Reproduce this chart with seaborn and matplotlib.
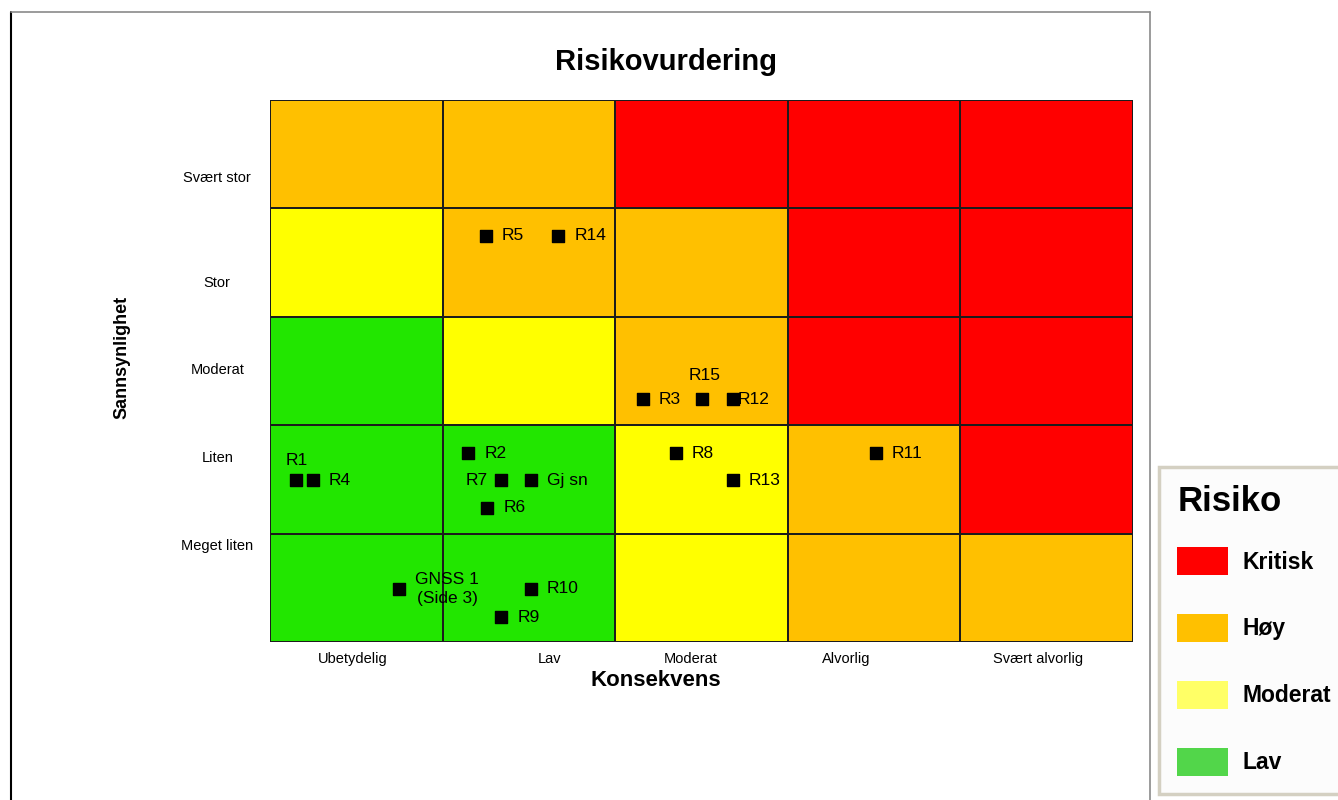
"""
risk matrix (risikovurdering)
"""

import matplotlib

matplotlib.use("Agg")
import matplotlib.pyplot as plt
import numpy as np
import seaborn as sns
from matplotlib.colors import ListedColormap
from matplotlib.lines import Line2D
from matplotlib.patches import Patch

########
# Data #
########

consequenceLabels = ["Ubetydelig", "Lav", "Moderat", "Alvorlig", "Svært alvorlig"]
likelihoodLabels = ["Svært stor", "Stor", "Moderat", "Liten", "Meget liten"]  # top -> bottom

riskLevels = ["Lav", "Moderat", "Høy", "Kritisk"]
# level index per cell, rows top -> bottom
riskGrid = [
    [2, 2, 3, 3, 3],
    [1, 2, 2, 3, 3],
    [0, 1, 2, 3, 3],
    [0, 0, 1, 2, 3],
    [0, 0, 1, 2, 2],
]

riskIds = ["R1", "R4", "R2", "R7", "Gj sn", "R6", "GNSS 1\n(Side 3)", "R10", "R9",
           "R5", "R14", "R3", "R15", "R12", "R8", "R13", "R11"]
# consequence / likelihood in cell units (0 = left / bottom edge of the matrix)
consequence = [0.15, 0.25, 1.15, 1.34, 1.51, 1.26, 0.75, 1.51, 1.34,
               1.25, 1.67, 2.16, 2.50, 2.68, 2.35, 2.68, 3.51]
likelihood = [1.49, 1.49, 1.74, 1.49, 1.49, 1.24, 0.49, 0.49, 0.23,
              3.75, 3.75, 2.24, 2.24, 2.24, 1.74, 1.49, 1.74]

##########
# Styles #
##########

cellColors = ["#22E600", "#FFFF00", "#FFC000", "#FF0000"]
legendColors = {"Kritisk": "#FF0000", "Høy": "#FFC000", "Moderat": "#FFFF66", "Lav": "#52D64A"}

# label placement (offset in points, horizontal alignment)
labelPlacement = {
    "R1": ((0.5, 14.5), "center"),
    "R7": ((-9.5, 0), "right"),
    "R15": ((2, 17), "center"),
    "R12": ((3.5, 0), "left"),
}
defaultPlacement = ((11.5, 0), "left")

xTickPos = [0.48, 1.62, 2.44, 3.34, 4.45]
yTickPos = [0.72, 1.69, 2.49, 3.30, 4.11]

sns.set_theme(style="white")
plt.rcParams["font.family"] = ["Liberation Sans", "DejaVu Sans"]
plt.rcParams["text.color"] = "black"
plt.rcParams["xtick.color"] = "black"
plt.rcParams["ytick.color"] = "black"

W, H = 1338, 800

#########
# Plots #
#########

plt.close()
fig = plt.figure(figsize=(W / 100, H / 100), dpi=100)
ax = fig.add_axes([270 / W, 1 - 642 / H, 863 / W, 542 / H])

sns.heatmap(
    np.array(riskGrid),
    cmap=ListedColormap(cellColors),
    vmin=-0.5,
    vmax=3.5,
    cbar=False,
    linewidths=1.2,
    linecolor="#1c1c1c",
    ax=ax,
)

ax.scatter(consequence, [5 - v for v in likelihood], marker="s", s=85, color="black",
           zorder=3, clip_on=False)
for name, x, y in zip(riskIds, consequence, likelihood):
    offset, ha = labelPlacement.get(name, defaultPlacement)
    ax.annotate(
        name,
        (x, 5 - y),
        xytext=offset,
        textcoords="offset points",
        ha=ha,
        va="center",
        multialignment="center",
        linespacing=1.3,
        fontsize=12.5,
        color="black",
        zorder=4,
    )

ax.set_xticks(xTickPos, consequenceLabels, rotation=0, fontsize=10.5)
ax.set_yticks(yTickPos, likelihoodLabels, rotation=0, fontsize=10.5)
for lab in ax.get_yticklabels():
    lab.set_horizontalalignment("center")
ax.tick_params(axis="y", length=0, pad=38)
ax.tick_params(axis="x", length=0, pad=7)
ax.set_xlabel("")
ax.set_ylabel("")

fig.text(666 / W, 1 - 62 / H, "Risikovurdering", ha="center", va="center",
         fontsize=21, fontweight="bold")
fig.text(656 / W, 1 - 681 / H, "Konsekvens", ha="center", va="center",
         fontsize=16, fontweight="bold")
fig.text(122 / W, 1 - 357 / H, "Sannsynlighet", ha="center", va="center",
         rotation=90, fontsize=13, fontweight="bold")

# page frame
fig.add_artist(Line2D([11 / W, 11 / W], [0, 1 - 12 / H], color="black", lw=1.5,
                      transform=fig.transFigure))
fig.add_artist(Line2D([11 / W, 1150 / W], [1 - 12 / H, 1 - 12 / H], color="#8a8a8a",
                      lw=1.2, transform=fig.transFigure))
fig.add_artist(Line2D([1150 / W, 1150 / W], [0, 1 - 12 / H], color="#8a8a8a", lw=1.2,
                      transform=fig.transFigure))

handles = [Patch(facecolor=c, edgecolor="none") for c in legendColors.values()]
leg = fig.legend(
    handles,
    list(legendColors.keys()),
    title="Risiko",
    loc="upper left",
    bbox_to_anchor=(1159 / W, 1 - 467 / H),
    borderaxespad=0,
    frameon=True,
    fancybox=False,
    framealpha=1,
    facecolor="#FCFCFC",
    edgecolor="#D4D0C2",
    prop={"weight": "bold", "size": 16.5},
    title_fontproperties={"weight": "bold", "size": 25},
    handlelength=2.2,
    handleheight=1.5,
    labelspacing=1.7,
    handletextpad=0.65,
    borderpad=0.8,
    alignment="left",
)
leg._legend_box.sep = 1.25 * 16.5  # tighter gap between title and first entry
leg.get_frame().set_linewidth(2.5)

fig.savefig("out.png", dpi=100)
